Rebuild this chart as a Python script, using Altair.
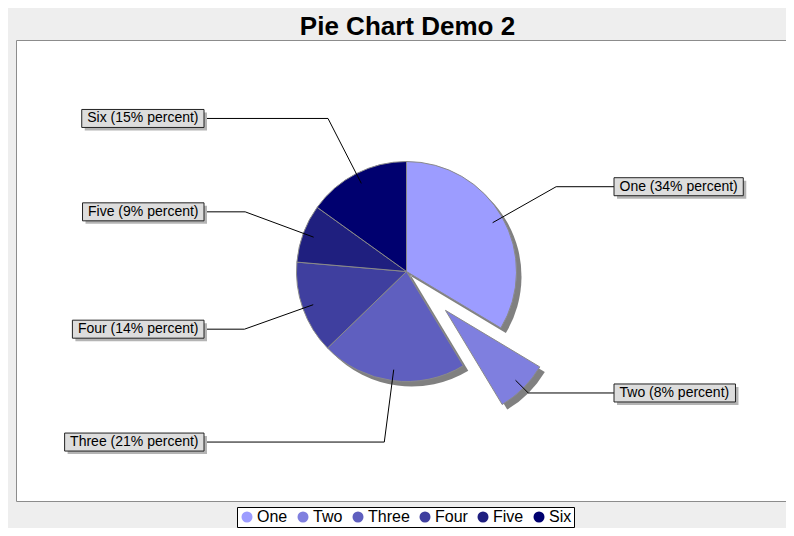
import math
import altair as alt
import pandas as pd

# ---- data ----
names = ["One", "Two", "Three", "Four", "Five", "Six"]
values = [43.2, 10.0, 27.5, 17.5, 11.0, 19.4]
explode = [0.0, 0.5, 0.0, 0.0, 0.0, 0.0]
colors = ["#9c9cff", "#7f7fdf", "#5f5fbf", "#3f3f9f", "#1f1f7f", "#00006f"]
title_text = "Pie Chart Demo 2"

# ---- layout constants (pixels) ----
R = 110            # pie radius
LINK_DEPTH = 0.9   # leader start, fraction of radius
KNEE = 172         # radius of leader elbow
LABEL_RIGHT_X = 207.5
LABEL_LEFT_X = -202.5
FONT_SIZE = 14
PAD = 5.5
BOX_H = 18

# Liberation Sans / Arial advance widths (1/1000 em)
WIDTHS = {
    "O": 778, "n": 556, "e": 556, " ": 278, "(": 333, ")": 333, "%": 889,
    "p": 556, "r": 333, "c": 500, "t": 278, "T": 611, "w": 722, "h": 556,
    "F": 611, "o": 556, "u": 556, "i": 222, "v": 500, "S": 667, "x": 500,
}
for d in "0123456789":
    WIDTHS[d] = 556


def text_width(s):
    return sum(WIDTHS.get(c, 556) for c in s) * FONT_SIZE / 1000.0


total = sum(values)
rows = []
cum = 0.0
for i, (n, v, ex_f) in enumerate(zip(names, values, explode)):
    start, end = cum, cum + v
    cum = end
    mid = (start + end) / 2.0 / total * 2 * math.pi
    sa, ca = math.sin(mid), math.cos(mid)
    pct = round(v / total * 100)
    label = f"{n} ({pct}% percent)"
    cx, cy = ex_f * R * sa, ex_f * R * ca
    sx, sy = cx + LINK_DEPTH * R * sa, cy + LINK_DEPTH * R * ca
    kx, ky = KNEE * sa, KNEE * ca
    w = text_width(label) + 2 * PAD
    if sa >= 0:
        ex = LABEL_RIGHT_X
        bx1, bx2 = ex, ex + w
    else:
        ex = LABEL_LEFT_X
        bx1, bx2 = ex - w, ex
    rows.append(dict(
        name=n, value=v, order=i, start=start, end=end, label=label,
        cx=cx, cy=cy, sx=sx, sy=sy, kx=kx, ky=ky, ex=ex,
        bx1=bx1, bx2=bx2, tx=bx1 + PAD, by1=ky - BOX_H / 2, by2=ky + BOX_H / 2,
    ))
df = pd.DataFrame(rows)

VIEW_W, VIEW_H = 770, 461
xs = alt.Scale(domain=[-390.5, 379.5], nice=False, zero=False)
ys = alt.Scale(domain=[-229.5, 231.5], nice=False, zero=False)
ts = alt.Scale(domain=[0, total], range=[0, 2 * math.pi])


def X(f):
    return alt.X(f, type="quantitative", scale=xs, axis=None)


def Y(f):
    return alt.Y(f, type="quantitative", scale=ys, axis=None)


base = alt.Chart(df)

shadow = base.mark_arc(radius=R, color="#808080", xOffset=5, yOffset=5).encode(
    x=X("cx"), y=Y("cy"),
    theta=alt.Theta("start:Q", scale=ts), theta2="end:Q",
)

pie = base.mark_arc(radius=R, stroke="#8a8a8a", strokeWidth=1).encode(
    x=X("cx"), y=Y("cy"),
    theta=alt.Theta("start:Q", scale=ts), theta2="end:Q",
    color=alt.Color(
        "name:N", sort=names,
        scale=alt.Scale(domain=names, range=colors),
        legend=alt.Legend(
            title=None, orient="none", direction="horizontal",
            legendX=221, legendY=467,
            fillColor="white", strokeColor="black", padding=2,
            symbolType="circle", symbolSize=121, symbolStrokeWidth=0,
            symbolOpacity=1,
            labelFont="Liberation Sans", labelFontSize=16, labelColor="black",
            labelOffset=2, columnPadding=7,
        ),
    ),
)

lead1 = base.mark_rule(color="black", strokeWidth=1).encode(
    x=X("sx"), y=Y("sy"), x2="kx", y2="ky"
)
lead2 = base.mark_rule(color="black", strokeWidth=1).encode(
    x=X("kx"), y=Y("ky"), x2="ex", y2="ky"
)
box_shadow = base.mark_rect(
    color="#b4b4b4", xOffset=3, x2Offset=3, yOffset=3, y2Offset=3
).encode(x=X("bx1"), x2="bx2", y=Y("by1"), y2="by2")
box = base.mark_rect(fill="#dddddd", stroke="#222222", strokeWidth=1).encode(
    x=X("bx1"), x2="bx2", y=Y("by1"), y2="by2"
)
text = base.mark_text(
    align="left", baseline="middle", fontSize=FONT_SIZE,
    font="Liberation Sans", color="black",
).encode(x=X("tx"), y=Y("ky"), text="label:N")

chart = alt.layer(
    shadow, pie, lead1, lead2, box_shadow, box, text
).properties(
    width=VIEW_W, height=VIEW_H,
    title=alt.TitleParams(
        text=title_text, fontSize=26, font="Liberation Sans",
        fontWeight="bold", anchor="middle", frame="group", color="black",
        baseline="alphabetic", offset=3.5, dx=6.5, dy=24.5,
    ),
    padding={"left": 8, "top": 32, "right": 0, "bottom": 27},
    autosize=alt.AutoSizeParams(type="none"),
).configure(background="#eeeeee").configure_view(
    fill="white", stroke="#8c8c8c", strokeWidth=1
)

chart.save("out.html", embed_options={"renderer": "svg", "actions": False})
